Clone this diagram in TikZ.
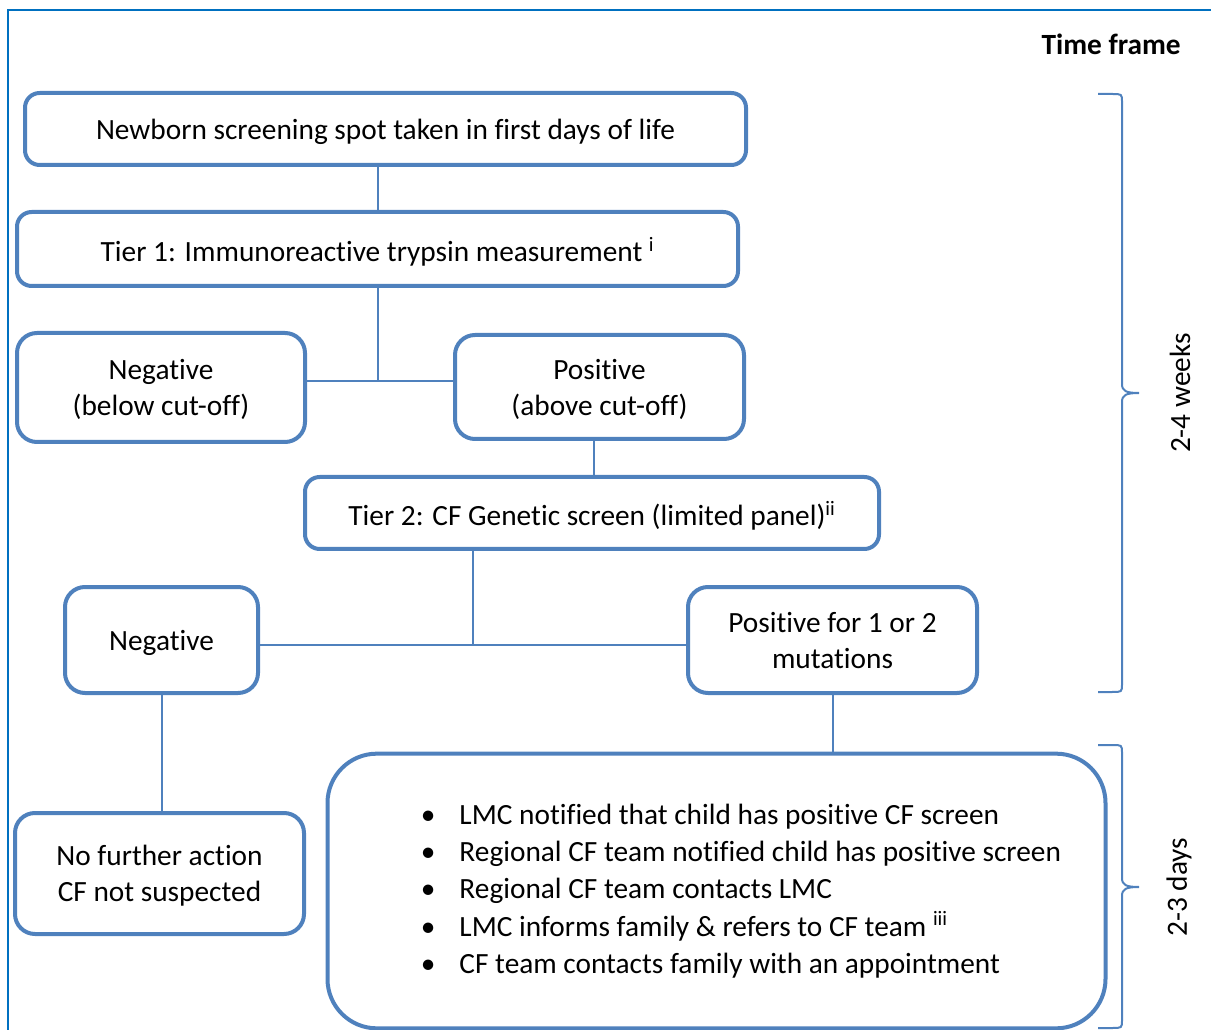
\documentclass[tikz,border=0pt]{standalone}
\usepackage{fontspec}
\setmainfont[Ligatures=NoCommon]{Carlito}
\usepackage{tikz}
\definecolor{boxblue}{RGB}{79,129,189}
\definecolor{frameblue}{RGB}{0,112,192}
\newcommand{\cfitem}[1]{\hspace*{70pt}\makebox[29pt][l]{\textbullet}#1}
\tikzset{
  stage/.style={draw=boxblue, line width=3pt, rounded corners=11pt, fill=white, align=center, inner sep=0pt, text depth=0pt},
  link/.style={draw=boxblue, line width=1.5pt},
  timebrace/.style={draw=boxblue, line width=1.5pt}
}

\begin{document}
\begin{tikzpicture}[x=0.75pt,y=-0.75pt,font=\fontsize{22}{27}\selectfont]
\useasboundingbox (0,0) rectangle (1211,1030);
\draw[frameblue, line width=1.5pt] (8,1030) -- (8,10) -- (1211,10);
\node[anchor=east, inner sep=0pt, font=\fontsize{22}{27}\selectfont\bfseries] (tf) at (1181,44) {Time frame};

\node[stage, minimum width=540.75pt, minimum height=54pt] (nb) at (385.5,129) {Newborn screening spot taken in first days of life};
\node[stage, minimum width=540.75pt, minimum height=55.5pt] (t1) at (377.5,249) {Tier 1: Immunoreactive trypsin measurement \textsuperscript{i}};
\node[stage, rounded corners=15pt, minimum width=216pt, minimum height=81.75pt] (neg1) at (161,387.5) {Negative\\(below cut-off)};
\node[stage, rounded corners=15pt, minimum width=216.75pt, minimum height=78pt] (pos1) at (599.5,387) {Positive\\(above cut-off)};
\node[stage, minimum width=430.5pt, minimum height=54pt] (t2) at (592,513) {Tier 2: CF Genetic screen (limited panel)\textsuperscript{ii}};
\node[stage, rounded corners=15pt, minimum width=144.75pt, minimum height=79.5pt] (neg2) at (161.5,640) {Negative};
\node[stage, rounded corners=15pt, minimum width=216.75pt, minimum height=79.5pt] (pos2) at (832.5,640) {Positive for 1 or 2\\mutations};
\node[stage, rounded corners=15pt, minimum width=216.75pt, minimum height=90.75pt] (nfa) at (159.5,873.5) {No further action\\CF not suspected};
\node[stage, text depth={}, rounded corners=37pt, minimum width=583.5pt, minimum height=206pt, text width=583.5pt, align=flush left, font=\fontsize{22}{27.9}\selectfont] (act) at (716.5,891) {\cfitem{LMC notified that child has positive CF screen}\\
\cfitem{Regional CF team notified child has positive screen}\\
\cfitem{Regional CF team contacts LMC}\\
\cfitem{LMC informs family \& refers to CF team \textsuperscript{iii}}\\
\cfitem{CF team contacts family with an appointment}};

\coordinate (j1) at (377.5,381);
\coordinate (j2) at (473,645);
\draw[link] (nb.south -| t1.north) -- (t1.north);
\draw[link] (t1.south) -- (j1);
\draw[link] (neg1.east |- j1) -- (pos1.west |- j1);
\draw[link] ([xshift=-4pt]pos1.south) -- ([xshift=-4pt]pos1.south |- t2.north);
\draw[link] (j2 |- t2.south) -- (j2);
\draw[link] (neg2.east |- j2) -- (pos2.west |- j2);
\draw[link] (neg2.south) -- (neg2.south |- nfa.north);
\draw[link] (pos2.south) -- (pos2.south |- act.north);

\draw[timebrace] (1098,94) -- (1112,94) .. controls (1122,94) .. (1122,102) -- (1122,384)
  .. controls (1122,391) and (1126,393) .. (1139,393) .. controls (1126,393) and (1122,395) .. (1122,402)
  -- (1122,684) .. controls (1122,692) .. (1112,692) -- (1098,692);
\draw[timebrace] (1098,745) -- (1112,745) .. controls (1122,745) .. (1122,753) -- (1122,878)
  .. controls (1122,885) and (1126,887) .. (1139,887) .. controls (1126,887) and (1122,889) .. (1122,896)
  -- (1122,1020) .. controls (1122,1028) .. (1112,1028) -- (1098,1028);
\node[rotate=90] (wk) at (1180,393) {2-4 weeks};
\node[rotate=90] (dy) at (1179,887) {2-3 days};
\end{tikzpicture}
\end{document}
